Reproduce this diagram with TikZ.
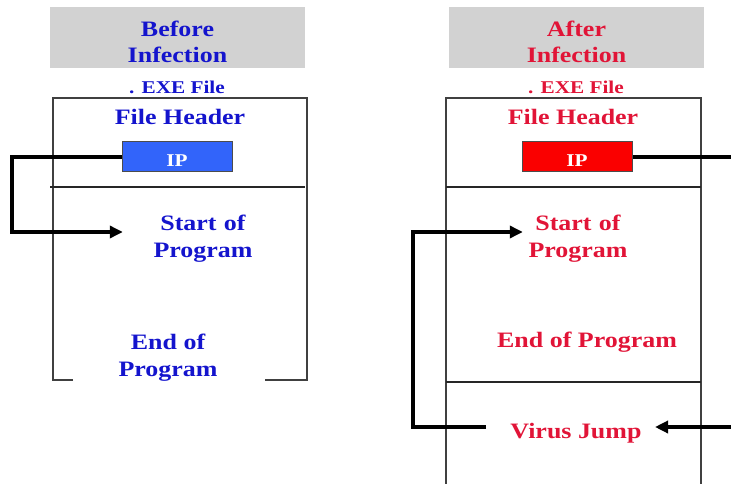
\documentclass[tikz,border=0pt]{standalone}
\usepackage{fontspec}
\setmainfont{Liberation Serif}[FakeStretch=1.18]
\usetikzlibrary{arrows.meta}
\definecolor{tblue}{RGB}{20,20,205}
\definecolor{tred}{RGB}{225,20,55}
\definecolor{hgray}{RGB}{210,210,210}
\definecolor{ipblue}{RGB}{50,100,250}
\definecolor{ipred}{RGB}{250,0,0}
\begin{document}
\begin{tikzpicture}[x=1pt,y=-1pt,
  titlebox/.style={fill=hgray, minimum width=255pt, minimum height=61pt, inner sep=0pt},
  lbl/.style={align=center, inner sep=0pt, font=\bfseries\fontsize{22}{27}\selectfont},
  small/.style={inner sep=0pt, font=\bfseries\fontsize{18}{18}\selectfont},
  ipbox/.style={draw=black!70, line width=1pt, minimum width=110pt, minimum height=30pt, inner sep=0pt,
    text height=19pt, text depth=0pt,
    text=white, font=\bfseries\fontsize{18}{18}\selectfont},
  frame/.style={draw=black!75, line width=1.5pt},
  divider/.style={draw=black!85, line width=1.2pt},
  conn/.style={line width=4pt, -{Triangle[length=13pt,width=12pt]}},
  plain/.style={line width=4pt}]
\useasboundingbox (0,0) rectangle (731,484);

% ---------- left panel ----------
\node[titlebox] (tLbox) at (177.5,37.5) {};
\node[lbl, text=tblue, font=\bfseries\fontsize{22}{26}\selectfont] (tL) at (177.5,41.5) {Before\\Infection};
\node[small, text=tblue] (exeL) at (177,87) {. EXE File};
\draw[frame] (73,380) -- (53,380) -- (53,98) -- (307,98) -- (307,380) -- (265,380);
\draw[divider] (50,187) -- (305,187);
\node[lbl, text=tblue] (hdrL) at (180,117) {File Header};
\node[ipbox, fill=ipblue] (ipL) at (177,157) {IP};
\node[lbl, text=tblue, text width=160pt] (startL) at (203,238.5) {Start of\\Program};
\node[lbl, text=tblue] (endL) at (168,357.5) {End of\\Program};

\coordinate (cornerL) at (12,232);
\draw[conn] (ipL.west) -| (cornerL) -- (startL.west |- cornerL);

% ---------- right panel ----------
\node[titlebox] (tRbox) at (576.5,37.5) {};
\node[lbl, text=tred, font=\bfseries\fontsize{22}{26}\selectfont] (tR) at (576.5,41.5) {After\\Infection};
\node[small, text=tred] (exeR) at (576,87) {. EXE File};
\draw[frame] (446,484) -- (446,98) -- (701,98) -- (701,484);
\draw[divider] (446,187) -- (701,187);
\draw[divider] (446,382) -- (701,382);
\node[lbl, text=tred] (hdrR) at (573,117) {File Header};
\node[ipbox, fill=ipred] (ipR) at (577,157) {IP};
\node[lbl, text=tred, text width=110pt] (startR) at (578,238.5) {Start of\\Program};
\node[lbl, text=tred] (endR) at (587,342.5) {End of Program};
\node[lbl, text=tred] (vj) at (576,433) {Virus Jump};

\coordinate (exitR) at (731,157);
\coordinate (entryR) at (731,427);
\coordinate (vjIn) at (655,427);
\coordinate (vjOut) at (486,427);
\coordinate (cornerR) at (413,232);
\draw[plain] (ipR.east) -- (exitR);
\draw[conn] (entryR) -- (vjIn);
\draw[conn] (vjOut) -| (cornerR) -- (startR.west |- cornerR);
\end{tikzpicture}
\end{document}
